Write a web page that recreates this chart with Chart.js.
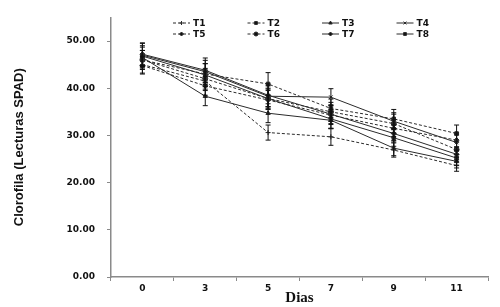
<!DOCTYPE html>
<html>
<head>
<meta charset="utf-8">
<script src="https://cdn.jsdelivr.net/npm/chart.js@4/dist/chart.umd.min.js"></script>
<style>
  html, body { margin: 0; padding: 0; background: #fff; }
  #wrap { width: 500px; height: 307px; }
</style>
</head>
<body>
<div id="wrap"><canvas id="myChart"></canvas></div>
<script>
// days of measurement
var dias = ["0", "3", "5", "7", "9", "11"];

// SPAD readings per treatment
var t1 = [45.0, 41.5, 30.6, 29.7, 26.9, 23.6];
var t2 = [46.0, 43.0, 40.9, 35.7, 33.5, 30.4];
var t3 = [46.5, 38.3, 34.7, 33.2, 27.3, 24.5];
var t4 = [47.0, 43.5, 38.3, 38.1, 33.0, 28.5];
var t5 = [44.8, 40.5, 37.5, 34.3, 31.5, 29.0];
var t6 = [46.0, 42.0, 37.8, 35.0, 32.5, 27.0];
var t7 = [47.2, 43.8, 38.5, 34.5, 30.4, 26.0];
var t8 = [46.8, 42.8, 37.8, 33.5, 29.5, 25.2];

// standard errors
var e1 = [1.8, 2.0, 1.6, 1.8, 1.5, 1.2];
var e2 = [2.0, 2.2, 2.4, 2.0, 2.0, 1.8];
var e3 = [2.2, 2.0, 2.0, 1.8, 1.6, 1.4];
var e4 = [2.5, 2.4, 2.2, 1.8, 1.8, 1.6];
var e5 = [1.8, 2.0, 2.0, 2.0, 1.8, 1.5];
var e6 = [2.0, 2.2, 2.0, 2.0, 2.0, 1.6];
var e7 = [2.4, 2.6, 2.4, 2.0, 1.8, 1.6];
var e8 = [2.2, 2.4, 2.2, 2.0, 1.8, 1.5];

var yTicks = [0, 10, 20, 30, 40, 50];

var ink = '#2b2b2b';
var dash = [3, 2];

function serie(label, data, err, dashed, style) {
  return {
    label: label,
    data: data,
    errors: err,
    borderColor: ink,
    backgroundColor: ink,
    borderWidth: 1,
    borderDash: dashed ? dash : [],
    pointStyle: style,
    pointRadius: 2.5,
    pointBorderWidth: 1,
    tension: 0
  };
}

// error bars drawn through the y scale
var errorBars = {
  id: 'errorBars',
  afterDatasetsDraw: function(chart) {
    var ctx = chart.ctx;
    var y = chart.scales.y;
    ctx.save();
    ctx.strokeStyle = '#111';
    ctx.lineWidth = 1;
    ctx.setLineDash([]);
    chart.data.datasets.forEach(function(ds, i) {
      var meta = chart.getDatasetMeta(i);
      meta.data.forEach(function(pt, j) {
        var v = ds.data[j], e = ds.errors[j];
        var top = y.getPixelForValue(v + e);
        var bot = y.getPixelForValue(v - e);
        ctx.beginPath();
        ctx.moveTo(pt.x, top); ctx.lineTo(pt.x, bot);
        ctx.moveTo(pt.x - 2.5, top); ctx.lineTo(pt.x + 2.5, top);
        ctx.moveTo(pt.x - 2.5, bot); ctx.lineTo(pt.x + 2.5, bot);
        ctx.stroke();
      });
    });
    ctx.restore();
  }
};

// 4-column legend sitting inside the plot
var gridLegend = {
  id: 'gridLegend',
  afterDraw: function(chart) {
    var ctx = chart.ctx;
    var x0 = 173, y0 = 23, colW = 74.5, rowH = 11;
    ctx.save();
    ctx.font = 'bold 9px "DejaVu Sans"';
    ctx.textBaseline = 'middle';
    ctx.fillStyle = '#111';
    chart.data.datasets.forEach(function(ds, i) {
      var cx = x0 + (i % 4) * colW;
      var cy = y0 + Math.floor(i / 4) * rowH;
      ctx.strokeStyle = ink;
      ctx.lineWidth = 1;
      ctx.setLineDash(ds.borderDash);
      ctx.beginPath();
      ctx.moveTo(cx, cy); ctx.lineTo(cx + 17, cy);
      ctx.stroke();
      ctx.setLineDash([]);
      Chart.helpers.drawPoint(ctx, {pointStyle: ds.pointStyle, radius: 2, borderWidth: 1}, cx + 8.5, cy);
      ctx.fillStyle = '#111';
      ctx.fillText(ds.label, cx + 20, cy + 0.5);
    });
    ctx.restore();
  }
};

var ctx = document.getElementById('myChart');
var myChart = new Chart(ctx, {
  type: 'line',
  data: {
    labels: dias,
    datasets: [
      serie('T1', t1, e1, true, 'cross'),
      serie('T2', t2, e2, true, 'rect'),
      serie('T3', t3, e3, false, 'triangle'),
      serie('T4', t4, e4, false, 'crossRot'),
      serie('T5', t5, e5, true, 'rectRot'),
      serie('T6', t6, e6, true, 'circle'),
      serie('T7', t7, e7, false, 'rectRot'),
      serie('T8', t8, e8, false, 'rect')
    ]
  },
  options: {
    responsive: true,
    maintainAspectRatio: false,
    animation: false,
    layout: { padding: { top: 15, right: 12, left: 0, bottom: 0 } },
    plugins: {
      legend: { display: false },
      tooltip: { enabled: false }
    },
    scales: {
      x: {
        offset: true,
        grid: { offset: true, drawOnChartArea: false, tickLength: 4, color: '#8a8a8a' },
        border: { color: '#8a8a8a', width: 1.5 },
        ticks: { color: '#111', padding: 2, font: { family: 'DejaVu Sans', weight: 'bold', size: 9 } },
        title: {
          display: true, text: 'Dias', color: '#111',
          padding: { top: 0, bottom: 0 },
          font: { family: 'Liberation Serif', weight: 'bold', size: 15 }
        },
        afterFit: function(scale) { scale.height = 30; }
      },
      y: {
        min: 0,
        max: 55,
        afterBuildTicks: function(axis) {
          axis.ticks = yTicks.map(function(v) { return { value: v }; });
        },
        grid: { drawOnChartArea: false, tickLength: 4, color: '#8a8a8a' },
        border: { color: '#8a8a8a', width: 1.5 },
        ticks: {
          color: '#111', padding: 12,
          font: { family: 'DejaVu Sans', weight: 'bold', size: 9 },
          callback: function(v) { return Number(v).toFixed(2); }
        },
        title: {
          display: true, text: 'Clorofila (Lecturas SPAD)', color: '#111',
          padding: { top: 12, bottom: 0 },
          font: { family: 'Liberation Sans', weight: 'bold', size: 13 }
        },
        afterFit: function(scale) { scale.width = 111; }
      }
    }
  },
  plugins: [errorBars, gridLegend]
});
</script>
</body>
</html>
